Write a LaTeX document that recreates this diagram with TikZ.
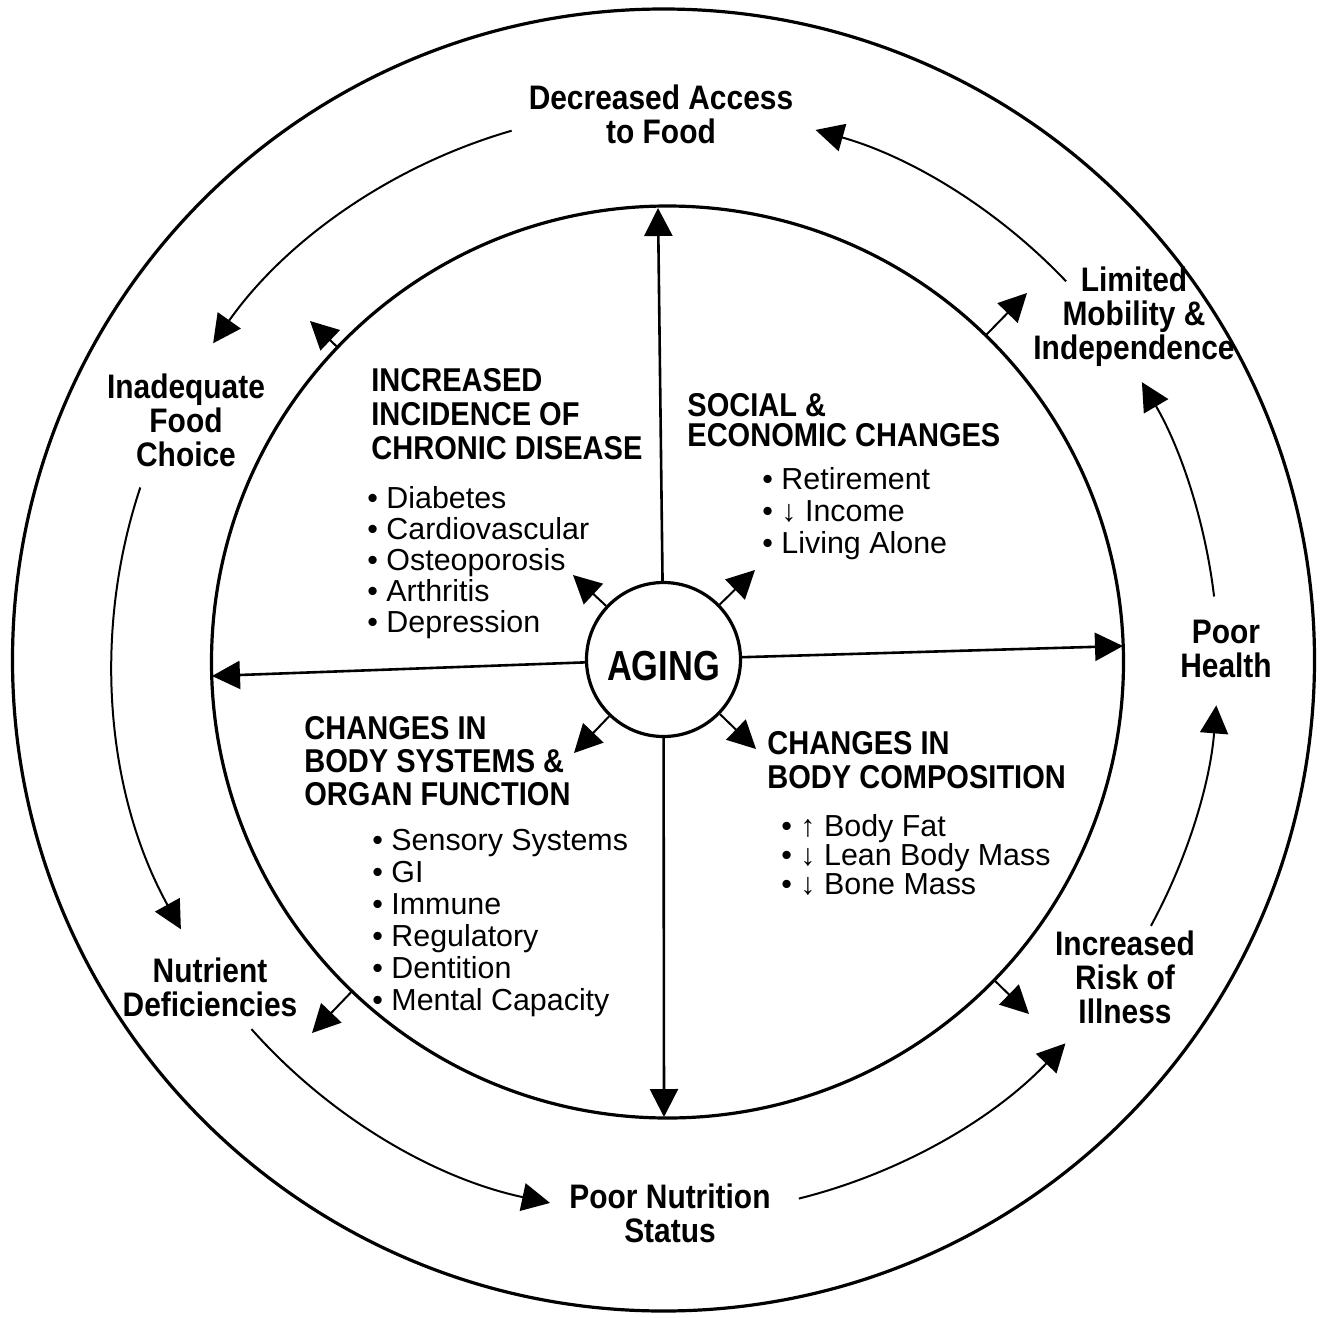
\documentclass[tikz,border=0pt]{standalone}
\usepackage{fontspec}
\setmainfont{Liberation Sans}[FakeStretch=0.88]
\newfontfamily\bulfont{Liberation Sans}
\newfontfamily\agefont{Liberation Sans}[FakeStretch=0.82]
\usetikzlibrary{arrows.meta,calc}
\begin{document}
\begin{tikzpicture}[x=0.5pt,y=-0.5pt,
  ring/.style={font=\fontsize{17pt}{17pt}\selectfont\bfseries, align=center, inner sep=0pt, anchor=north},
  head/.style={font=\fontsize{16.5pt}{17pt}\selectfont\bfseries, align=left, inner sep=0pt, anchor=north west},
  bul/.style={font=\bulfont\fontsize{15.2pt}{16pt}\selectfont, align=left, inner sep=0pt, anchor=north west},
  tipshape/.style={-{Triangle[length=14pt,width=14pt]}},
  arr/.style={tipshape, line width=1pt},
  cross/.style={tipshape, line width=1.3pt},
  bigcirc/.style={circle, draw, line width=1.6pt, inner sep=0pt}
]
\useasboundingbox (0,0) rectangle (1324,1318);
\fill[white] (0,0) rectangle (1324,1318);

% circles
\node[bigcirc, minimum size=651pt] (outer) at (663.5,660) {};
\node[bigcirc, minimum size=456pt] (inner) at (667.5,662) {};
\node[bigcirc, minimum size=77pt, font=\agefont\bfseries\fontsize{21pt}{21pt}\selectfont,
      text height=20.5pt, text depth=0pt] (aging) at (663.5,659.5) {AGING};

% cross arrows
\coordinate (tN) at (658,208);
\coordinate (tS) at (664,1117);
\coordinate (tW) at (212,676);
\coordinate (tE) at (1123,646);
\draw[cross] (aging) -- (tN);
\draw[cross] (aging) -- (tS);
\draw[cross] (aging) -- (tW);
\draw[cross] (aging) -- (tE);

% small diagonal arrows from AGING
\coordinate (sNW) at (573,575);
\coordinate (sNE) at (755,570);
\coordinate (sSW) at (574,753);
\coordinate (sSE) at (756,749);
\draw[arr] (aging) -- (sNW);
\draw[arr] (aging) -- (sNE);
\draw[arr] (aging) -- (sSW);
\draw[arr] (aging) -- (sSE);

% diagonal arrows from inner circle outward
\coordinate (oNW) at (310,321);
\coordinate (oNE) at (1027,293);
\coordinate (oSW) at (312,1033);
\coordinate (oSE) at (1029,1014);
\coordinate (ic) at (667.5,662);
\draw[arr] ($(ic)!456/494!(oNW)$) -- (oNW);
\draw[arr] ($(ic)!456/515!(oNE)$) -- (oNE);
\draw[arr] ($(ic)!456/514!(oSW)$) -- (oSW);
\draw[arr] ($(ic)!456/504!(oSE)$) -- (oSE);

% ring arcs
\coordinate (rc) at (665,662);
\coordinate (a1) at ($(rc)+(-106.1:553)$);
\coordinate (a2) at ($(rc)+(-161.6:553)$);
\coordinate (a3) at ($(rc)+(-221.6:553)$);
\coordinate (a4) at ($(rc)+(-284:553)$);
\coordinate (a5) at ($(rc)+(-331.5:553)$);
\coordinate (a6) at ($(rc)+(-6.8:553)$);
\coordinate (a7) at ($(rc)+(-43.5:553)$);
\draw[arr] (a1) arc[start angle=-106.1, end angle=-144.8, radius=553];
\draw[arr] (a2) arc[start angle=-161.6, end angle=-208.9, radius=553];
\draw[arr] (a3) arc[start angle=-221.6, end angle=-258, radius=553];
\draw[arr] (a4) arc[start angle=-284, end angle=-316.4, radius=553];
\draw[arr] (a5) arc[start angle=-331.5, end angle=-355.5, radius=553];
\draw[arr] (a6) arc[start angle=-6.8, end angle=-30.4, radius=553];
\draw[arr] (a7) arc[start angle=-43.5, end angle=-74.2, radius=553];

% ring labels
\node[ring] (dec) at (661,84) {Decreased Access\\to Food};
\node[ring] (lim) at (1134,266) {Limited\\Mobility \&\\Independence};
\node[ring] (inad) at (186,373) {Inadequate\\Food\\Choice};
\node[ring] (ph) at (1226,620) {Poor\\Health};
\node[ring] (nut) at (210,957) {Nutrient\\Deficiencies};
\node[ring] (risk) at (1125,930) {Increased\\Risk of\\Illness};
\node[ring] (pns) at (670,1183) {Poor Nutrition\\Status};

% quadrant headings
\node[head] (h1) at (371,368) {INCREASED\\INCIDENCE OF\\CHRONIC DISEASE};
\node[head, font=\fontsize{16.5pt}{15pt}\selectfont\bfseries] (h2) at (687,393) {SOCIAL \&\\ECONOMIC CHANGES};
\node[head, font=\fontsize{16.5pt}{16.5pt}\selectfont\bfseries] (h3) at (304,716) {CHANGES IN\\BODY SYSTEMS \&\\ORGAN FUNCTION};
\node[head] (h4) at (767,731) {CHANGES IN\\BODY COMPOSITION};

% bullet lists
\node[bul, font=\bulfont\fontsize{15.2pt}{15.5pt}\selectfont] (b1) at (367,486)
  {• Diabetes\\• Cardiovascular\\• Osteoporosis\\• Arthritis\\• Depression};
\node[bul] (b2) at (762,467) {• Retirement\\• ↓ Income\\• Living Alone};
\node[bul] (b3) at (372,829)
  {• Sensory Systems\\• GI\\• Immune\\• Regulatory\\• Dentition\\• Mental Capacity};
\node[bul, font=\bulfont\fontsize{15.2pt}{14.5pt}\selectfont] (b4) at (781,814)
  {• ↑ Body Fat\\• ↓ Lean Body Mass\\• ↓ Bone Mass};
\end{tikzpicture}
\end{document}
